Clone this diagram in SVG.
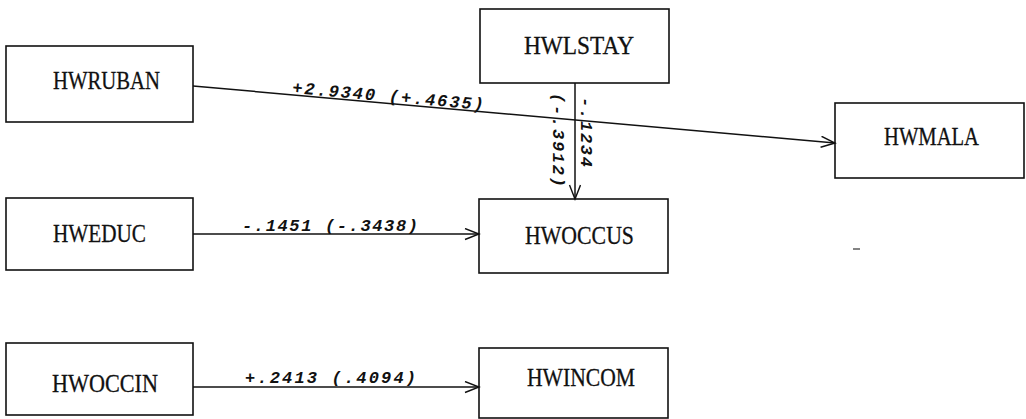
<svg xmlns="http://www.w3.org/2000/svg" width="1026" height="419" viewBox="0 0 1026 419">
<style>
.box{fill:#fff;stroke:#111;stroke-width:1.6}
.nt{font-family:"Liberation Serif","Times New Roman",serif;font-size:26px;fill:#111;stroke:#111;stroke-width:0.3}
.lbl{font-family:"Liberation Mono","Courier New",monospace;font-size:17px;font-style:italic;font-weight:bold;fill:#111}
.edge{stroke:#111;stroke-width:1.5;fill:none}
</style>
<defs>
<marker id="arr" markerUnits="userSpaceOnUse" markerWidth="20" markerHeight="14" refX="15" refY="6" orient="auto" viewBox="0 0 20 14">
<path d="M1,0.5 L15,6 L1,11.5" fill="none" stroke="#111" stroke-width="1.4"/>
</marker>
</defs>
<rect width="1026" height="419" fill="#fff"/>
<g id="HWRUBAN"><rect class="box" x="6" y="46" width="187" height="76"/><text class="nt" x="53" y="89" textLength="107" lengthAdjust="spacingAndGlyphs">HWRUBAN</text></g>
<g id="HWLSTAY"><rect class="box" x="480" y="9" width="189" height="74"/><text class="nt" x="524" y="54" textLength="110" lengthAdjust="spacingAndGlyphs">HWLSTAY</text></g>
<g id="HWMALA"><rect class="box" x="835" y="103" width="189" height="75"/><text class="nt" x="884" y="145" textLength="95" lengthAdjust="spacingAndGlyphs">HWMALA</text></g>
<g id="HWEDUC"><rect class="box" x="6" y="198" width="187" height="72"/><text class="nt" x="53" y="242" textLength="93" lengthAdjust="spacingAndGlyphs">HWEDUC</text></g>
<g id="HWOCCUS"><rect class="box" x="479" y="199" width="189" height="74"/><text class="nt" x="525" y="244" textLength="109" lengthAdjust="spacingAndGlyphs">HWOCCUS</text></g>
<g id="HWOCCIN"><rect class="box" x="6" y="343" width="187" height="72"/><text class="nt" x="52" y="392" textLength="106" lengthAdjust="spacingAndGlyphs">HWOCCIN</text></g>
<g id="HWINCOM"><rect class="box" x="479" y="348" width="189" height="70"/><text class="nt" x="527" y="386" textLength="108" lengthAdjust="spacingAndGlyphs">HWINCOM</text></g>
<g id="connectors">
<line class="edge" x1="193" y1="86" x2="835" y2="143" marker-end="url(#arr)"/>
<line class="edge" x1="575" y1="83" x2="575" y2="199" marker-end="url(#arr)"/>
<line class="edge" x1="193" y1="234" x2="479" y2="234" marker-end="url(#arr)"/>
<line class="edge" x1="193" y1="387" x2="479" y2="387" marker-end="url(#arr)"/>
<text class="lbl" transform="translate(292,93) rotate(5.07)" textLength="192" lengthAdjust="spacing">+2.9340 (+.4635)</text>
<text class="lbl" x="242" y="231" textLength="176" lengthAdjust="spacing">-.1451 (-.3438)</text>
<text class="lbl" x="245" y="383" textLength="171" lengthAdjust="spacing">+.2413 (.4094)</text>
<text class="lbl" transform="translate(581,97) rotate(90)" textLength="70" lengthAdjust="spacing">-.1234</text>
<text class="lbl" transform="translate(553,93) rotate(90)" textLength="94" lengthAdjust="spacing">(-.3912)</text>
</g>
<line x1="853" y1="249" x2="860" y2="249" stroke="#333" stroke-width="1.2"/>
</svg>
